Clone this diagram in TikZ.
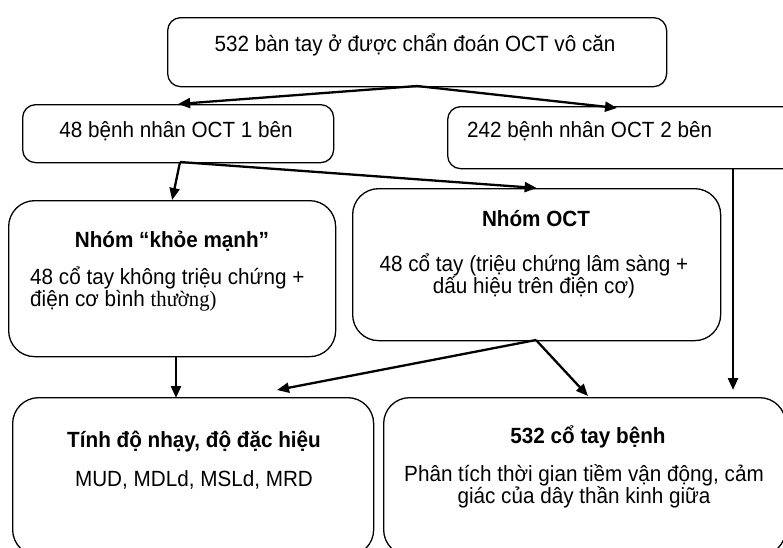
\documentclass[tikz,border=0pt]{standalone}
\usepackage{fontspec}
\setmainfont{Liberation Sans}[FakeStretch=0.94]
\newfontfamily\timesf{Liberation Serif}[FakeStretch=0.94]
\usetikzlibrary{arrows.meta}
\begin{document}
\begin{tikzpicture}[x=1pt,y=-1pt,
  sbox/.style={draw, line width=1.3pt, rounded corners=13pt, anchor=north west, inner sep=0pt},
  bbox/.style={draw, line width=1.3pt, rounded corners=26pt, anchor=north west, inner sep=0pt},
  txt/.style={font=\fontsize{22}{22}\selectfont, inner sep=0pt},
  btxt/.style={font=\fontsize{22}{22}\selectfont\bfseries, inner sep=0pt},
  arr/.style={line width=2.3pt, -{Triangle[length=12pt,width=10pt]}}]
\useasboundingbox (0,0) rectangle (783,547);
\clip (0,0) rectangle (783,547);
% boxes
\node[sbox, minimum width=499pt, minimum height=69pt] (top) at (167,17) {};
\node[sbox, minimum width=311pt, minimum height=58pt] (b1) at (22,104) {};
\node[sbox, minimum width=360pt, minimum height=62pt] (b2) at (447,106) {};
\node[bbox, minimum width=327pt, minimum height=156pt] (k) at (8,200) {};
\node[bbox, minimum width=368pt, minimum height=152pt] (o) at (352,188) {};
\node[bbox, minimum width=361pt, minimum height=158pt] (bl) at (12,397) {};
\node[bbox, minimum width=402pt, minimum height=158pt] (br) at (383,397) {};
% texts
\node[txt] (ttop) at (415,45) {532 bàn tay ở được chẩn đoán OCT vô căn};
\node[txt] (t1) at (176,131) {48 bệnh nhân OCT 1 bên};
\node[txt, anchor=west] (t2) at (467,131) {242 bệnh nhân OCT 2 bên};
\node[btxt] (kt) at (172,241) {Nhóm “khỏe mạnh”};
\node[txt, anchor=west, align=left] (kb) at (30,289) {48 cổ tay không triệu chứng +\\điện cơ bình {\timesf thường)}};
\node[btxt] (ot) at (536,219) {Nhóm OCT};
\node[txt, align=center] (ob) at (534,276) {48 cổ tay (triệu chứng lâm sàng +\\dấu hiệu trên điện cơ)};
\node[btxt] (blt) at (194,442) {Tính độ nhạy, độ đặc hiệu};
\node[txt] (blb) at (194,480) {MUD, MDLd, MSLd, MRD};
\node[btxt] (brt) at (588,437) {532 cổ tay bệnh};
\node[txt, align=center] (brb) at (584,486) {Phân tích thời gian tiềm vận động, cảm\\giác của dây thần kinh giữa};
% connector points
\coordinate (tops) at (417,86);
\coordinate (b2in) at (617,108);
\coordinate (b1s) at (180,162);
\coordinate (v1) at (733,168);
\coordinate (v2) at (733,390);
\coordinate (ks) at (176,356);
\coordinate (kd) at (176,398);
\coordinate (os) at (536,340);
\coordinate (bld) at (277,390);
\coordinate (brd) at (588,396);
% connectors
\draw[arr] (tops) -- (b1.north);
\draw[arr] (tops) -- (b2in);
\draw[arr] (b1s) -- (k.north);
\draw[arr] (b1s) -- (o.north);
\draw[arr] (v1) -- (v2);
\draw[arr] (ks) -- (kd);
\draw[arr] (os) -- (bld);
\draw[arr] (os) -- (brd);
\end{tikzpicture}
\end{document}
